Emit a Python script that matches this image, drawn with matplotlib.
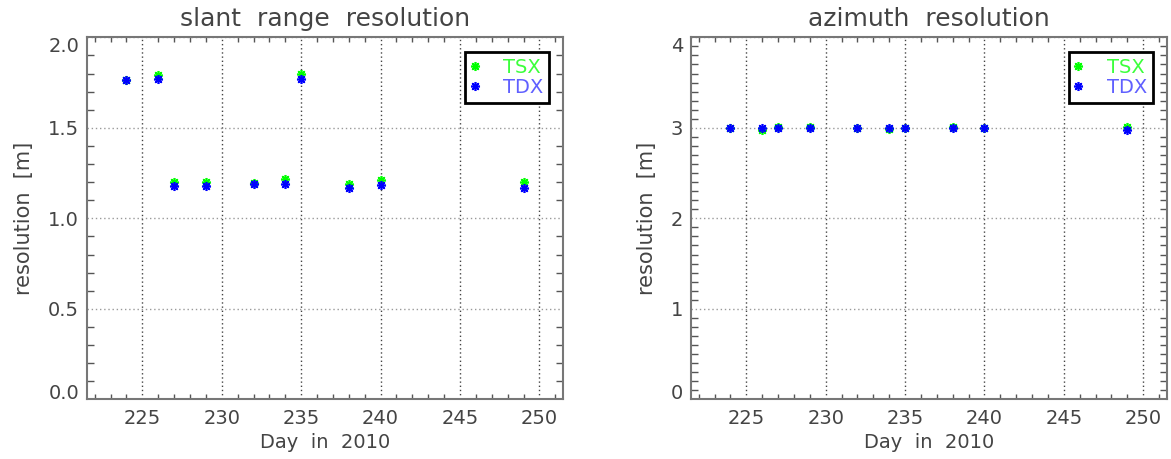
import matplotlib
matplotlib.use("Agg")
import matplotlib.pyplot as plt
from matplotlib.ticker import MultipleLocator, FormatStrFormatter

# ---------------- data ----------------
days = [224, 226, 227, 229, 232, 234, 235, 238, 240, 249]

slant_tsx = [1.765, 1.79, 1.20, 1.20, 1.195, 1.215, 1.80, 1.19, 1.21, 1.20]
slant_tdx = [1.765, 1.77, 1.18, 1.18, 1.19, 1.19, 1.77, 1.17, 1.185, 1.17]

azi_tsx = [3.00, 2.98, 3.01, 3.01, 3.00, 2.99, 3.00, 3.01, 3.00, 3.01]
azi_tdx = [3.00, 3.00, 3.00, 3.00, 3.00, 3.00, 3.00, 3.00, 3.00, 2.98]

titles = ["slant  range  resolution", "azimuth  resolution"]
xlabel = "Day  in  2010"
ylabel = "resolution  [m]"
series_names = ["TSX", "TDX"]

marker_colors = ["#00ff00", "#0000ff"]
text_colors = ["#3cff3c", "#6060ff"]
TXT = "#444444"
SPINE = "#777777"

fig = plt.figure(figsize=(11.71, 4.59), dpi=100)
W, H = 1171, 459

def make_ax(left_px, right_px):
    top, bottom = 37.3, 399.3
    return fig.add_axes([left_px / W, (H - bottom) / H,
                         (right_px - left_px) / W, (bottom - top) / H])

ax1 = make_ax(86.7, 563.3)
ax2 = make_ax(690.7, 1167.0)

configs = [
    (ax1, slant_tsx, slant_tdx, (0, 2.0), 0.5, "%.1f", -0.131),
    (ax2, azi_tsx, azi_tdx, (0, 4.0), 1.0, "%d", -0.092),
]

mk = (8, 2, 0)

for i, (ax, tsx, tdx, ylim, ymaj, fmt, ylab_x) in enumerate(configs):
    ax.plot(days, tsx, linestyle="none", marker=mk, markersize=6.5,
            markeredgewidth=1.2, color=marker_colors[0], label=series_names[0])
    ax.plot(days, tdx, linestyle="none", marker=mk, markersize=6.5,
            markeredgewidth=1.2, color=marker_colors[1], label=series_names[1])

    ax.set_xlim(221.5, 251.5)
    ax.set_ylim(*ylim)
    ax.xaxis.set_major_locator(MultipleLocator(5))
    ax.xaxis.set_minor_locator(MultipleLocator(1))
    ax.yaxis.set_major_locator(MultipleLocator(ymaj))
    ax.yaxis.set_minor_locator(MultipleLocator(0.1))
    ax.yaxis.set_major_formatter(FormatStrFormatter(fmt))

    ax.tick_params(axis="both", which="major", length=0, labelsize=14,
                   labelcolor=TXT)
    ax.tick_params(axis="x", which="major", pad=7)
    ax.tick_params(axis="y", which="major", pad=5.5)
    ax.tick_params(axis="x", which="minor", direction="in", length=3.6,
                   width=1.0, color="#555555", top=True, bottom=True)
    ax.tick_params(axis="y", which="minor", direction="in", length=5,
                   width=1.0, color="#555555", left=True, right=True)

    ax.grid(True, axis="x", which="major", linestyle=(0, (1, 2)),
            linewidth=1.0, color="#444444")
    ax.grid(True, axis="y", which="major", linestyle=(0, (1, 2)),
            linewidth=1.0, color="#999999")
    ax.set_axisbelow(True)

    for sp in ax.spines.values():
        sp.set_color(SPINE)
        sp.set_linewidth(1.5)

    ax.set_title(titles[i], fontsize=18, color=TXT, pad=8)
    ax.set_xlabel(xlabel, fontsize=14, color=TXT)
    ax.xaxis.set_label_coords(0.5, -0.118)
    ax.xaxis.label.set_va("center")
    ax.set_ylabel(ylabel, fontsize=15, color=TXT)
    ax.yaxis.set_label_coords(ylab_x, 0.5)
    ax.yaxis.label.set_va("center")

    leg = ax.legend(loc="upper right", bbox_to_anchor=(0.970, 0.959),
                    borderaxespad=0, fontsize=14, fancybox=False,
                    frameon=True, framealpha=1, edgecolor="black",
                    borderpad=0.3, handlelength=0.4, handletextpad=1.25,
                    labelspacing=0.05, markerscale=1.0)
    leg.get_frame().set_linewidth(2.0)
    for t, c in zip(leg.get_texts(), text_colors):
        t.set_color(c)

    # end labels sit inside the axis range, like the original
    fig.canvas.draw()
    for l in ax.get_yticklabels():
        y = l.get_position()[1]
        if abs(y - ylim[0]) < 1e-9:
            l.set_va("baseline")
        elif abs(y - ylim[1]) < 1e-9:
            l.set_va("top")

fig.savefig("out.png", dpi=100)
